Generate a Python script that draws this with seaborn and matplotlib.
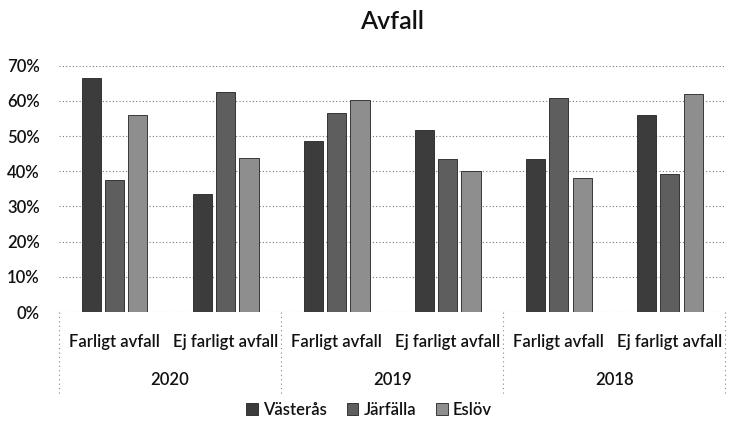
import matplotlib
matplotlib.use("Agg")
import matplotlib.pyplot as plt
import matplotlib.transforms as mtransforms
from matplotlib.ticker import PercentFormatter
import numpy as np
import pandas as pd
import seaborn as sb

# data (percent)
years = ["2020", "2019", "2018"]
types = ["Farligt avfall", "Ej farligt avfall"]
cities = ["Västerås", "Järfälla", "Eslöv"]
vasteras = [66.5, 33.6, 48.5, 51.8, 43.6, 56.1]
jarfalla = [37.6, 62.6, 56.6, 43.5, 60.7, 39.3]
eslov = [56.1, 43.9, 60.1, 40.0, 38.0, 62.0]

categories = [f"{y}|{t}" for y in years for t in types]
df = pd.DataFrame({
    "Kategori": categories * 3,
    "Stad": [c for c in cities for _ in categories],
    "Andel": vasteras + jarfalla + eslov,
})

sb.set_style("white")
plt.rcParams["font.family"] = ["Lato", "DejaVu Sans"]
plt.rcParams["text.color"] = "#111111"
plt.rcParams["xtick.color"] = "#111111"
plt.rcParams["ytick.color"] = "#111111"

fig = plt.figure(figsize=(7.29, 4.23), dpi=100)
ax = fig.add_axes([0.081, 0.262, 0.914, 0.583])

colors = ["#3c3c3c", "#5e5e5e", "#8e8e8e"]
sb.barplot(data=df, x="Kategori", y="Andel", hue="Stad", order=categories,
           hue_order=cities, palette=colors, width=0.63, gap=0.18,
           edgecolor="#222222", linewidth=0.6, ax=ax, legend=True)

ax.set_ylim(0, 70)
ax.set_yticks(np.arange(0, 71, 10))
ax.yaxis.set_major_formatter(PercentFormatter(xmax=100, decimals=0))
ax.grid(axis="y", linestyle=(0, (1, 2)), color="#777777", linewidth=0.8)
ax.set_axisbelow(True)
for s in ax.spines.values():
    s.set_visible(False)
ax.set_xlim(-0.5, len(categories) - 0.5)

ax.set_xticks(range(len(categories)))
ax.set_xticklabels([c.split("|")[1] for c in categories], fontsize=12,
                   fontweight="semibold")
ax.tick_params(axis="x", length=0, pad=16)
ax.tick_params(axis="y", length=0, labelsize=12, pad=14)
for lab in ax.get_yticklabels():
    lab.set_fontweight("semibold")
ax.set_xlabel("")
ax.set_ylabel("")

# year labels and separators below the axis
trans = mtransforms.blended_transform_factory(ax.transData, ax.transAxes)
for i, y in enumerate(years):
    ax.text(2 * i + 0.5, -0.275, y, transform=trans, ha="center", va="center",
            fontsize=12, fontweight="semibold")
for xs in np.arange(-0.5, len(categories), 2):
    ax.plot([xs, xs], [0, -0.34], transform=trans, clip_on=False,
            color="#888888", linestyle=(0, (1, 3)), linewidth=0.8)

ax.set_title("Avfall", fontsize=18, pad=26, fontweight="semibold")

handles, labels = ax.get_legend_handles_labels()
leg = ax.legend(handles, labels, loc="center", bbox_to_anchor=(0.465, -0.395),
                ncol=3, frameon=False, fontsize=12, handlelength=0.7,
                handleheight=0.7, handletextpad=0.3, columnspacing=1.2)
for t in leg.get_texts():
    t.set_fontweight("semibold")

fig.savefig("out.png", dpi=100)
